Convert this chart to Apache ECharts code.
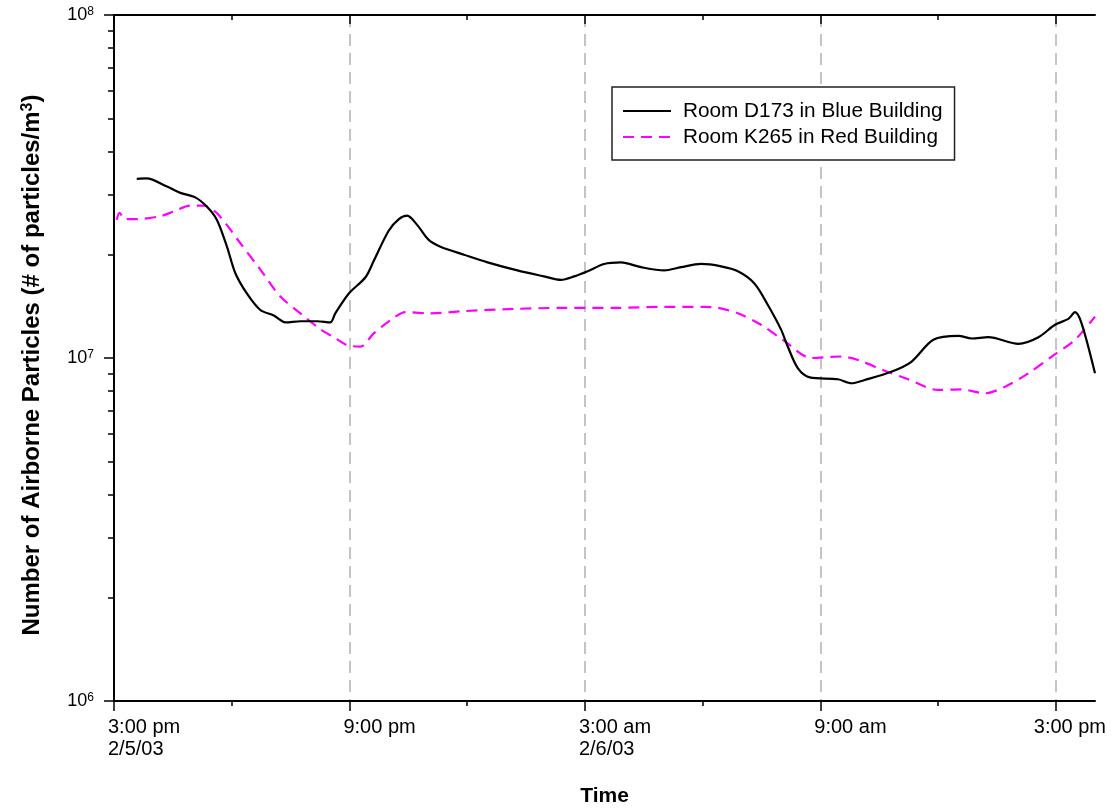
<!DOCTYPE html>
<html>
<head>
<meta charset="utf-8">
<script src="https://cdn.jsdelivr.net/npm/echarts@6/dist/echarts.min.js"></script>
<style>html,body{margin:0;padding:0;background:#fff;}#c{width:1113px;height:810px;}</style>
</head>
<body>
<div id="c"></div>
<script>
// Hours after 3:00 pm 2/5/03
const blueHours = [0.58,0.83,1.35,1.69,2.07,2.37,2.62,2.88,3.09,3.39,3.73,4.07,4.37,4.75,5.18,5.51,5.64,5.98,6.41,6.62,7.0,7.26,7.47,7.73,8.02,8.32,8.92,9.52,10.28,10.96,11.39,11.73,12.07,12.49,12.92,13.43,14.02,14.45,14.96,15.47,15.90,16.32,16.66,17.0,17.17,17.43,17.73,18.45,18.79,19.13,19.81,20.32,20.88,21.52,21.86,22.28,23.05,23.56,23.98,24.32,24.49,24.66,25.0];
const blueValues = [3.33e7,3.34e7,3.16e7,3.03e7,2.94e7,2.76e7,2.53e7,2.11e7,1.77e7,1.54e7,1.38e7,1.33e7,1.27e7,1.28e7,1.28e7,1.27e7,1.35e7,1.54e7,1.72e7,1.92e7,2.35e7,2.54e7,2.60e7,2.44e7,2.21e7,2.11e7,2.00e7,1.90e7,1.80e7,1.73e7,1.69e7,1.73e7,1.79e7,1.88e7,1.90e7,1.84e7,1.80e7,1.84e7,1.88e7,1.85e7,1.79e7,1.65e7,1.43e7,1.21e7,1.08e7,9.33e6,8.78e6,8.67e6,8.44e6,8.63e6,9.12e6,9.75e6,1.13e7,1.16e7,1.14e7,1.15e7,1.10e7,1.15e7,1.25e7,1.30e7,1.36e7,1.26e7,9.02e6];

const redHours = [0.07,0.14,0.28,0.58,1.17,1.51,1.94,2.28,2.58,2.88,3.22,3.73,4.24,4.75,5.27,5.60,5.94,6.28,6.62,7.05,7.43,8.07,8.92,10.19,11.47,12.75,14.02,15.05,15.39,15.90,16.49,17.09,17.77,18.54,18.96,19.64,20.24,21.0,21.6,22.19,22.71,23.3,23.9,24.49,25.0];
const redValues = [2.53e7,2.65e7,2.54e7,2.54e7,2.59e7,2.67e7,2.78e7,2.78e7,2.67e7,2.44e7,2.16e7,1.81e7,1.51e7,1.35e7,1.21e7,1.15e7,1.09e7,1.08e7,1.18e7,1.29e7,1.36e7,1.35e7,1.37e7,1.39e7,1.40e7,1.40e7,1.41e7,1.41e7,1.40e7,1.35e7,1.25e7,1.12e7,1.00e7,1.01e7,9.87e6,9.18e6,8.67e6,8.07e6,8.10e6,7.89e6,8.25e6,9.02e6,1.01e7,1.13e7,1.32e7];

const seriesNames = ['Room D173 in Blue Building', 'Room K265 in Red Building'];
const xMajorHours = [0, 6, 12, 18, 24];
const xMinorHours = [3, 9, 15, 21];
const xTickLabels = ['3:00 pm\n2/5/03', '9:00 pm', '3:00 am\n2/6/03', '9:00 am', '3:00 pm'];
const yMajorValues = [1e6, 1e7, 1e8];
const yMinorMultipliers = [2, 3, 4, 5, 6, 7, 8, 9];
const yMinorValues = [];
[1e6, 1e7].forEach(d => yMinorMultipliers.forEach(m => yMinorValues.push(m * d)));

const FONT = 'Liberation Sans, Arial, sans-serif';
const pair = (xs, ys) => xs.map((x, i) => [x, ys[i]]);

const chart = echarts.init(document.getElementById('c'), null, {renderer: 'canvas'});

const baseX = {type: 'value', min: 0, max: 25, interval: 6, gridIndex: 0, splitLine: {show: false}};
const baseY = {type: 'log', logBase: 10, min: 1e6, max: 1e8, gridIndex: 0, splitLine: {show: false}};
const blackLine = {show: true, lineStyle: {color: '#000', width: 2}};

chart.setOption({
  animation: false,
  backgroundColor: '#fff',
  textStyle: {fontFamily: FONT},
  grid: {left: 114, right: 18, top: 15, bottom: 109, containLabel: false, outerBoundsMode: 'none'},
  legend: {
    orient: 'vertical', left: 612, top: 87,
    padding: [13, 12, 12, 10], itemGap: 4, itemWidth: 48, itemHeight: 14,
    borderColor: '#222', borderWidth: 1.5, backgroundColor: '#fff',
    itemStyle: {opacity: 0},
    textStyle: {fontSize: 20.75, color: '#000', fontFamily: FONT, lineHeight: 22, padding: [0, 0, 0, 7]},
    data: seriesNames
  },
  xAxis: [
    Object.assign({}, baseX, {
      position: 'bottom', axisLine: blackLine,
      axisTick: {show: true, inside: false, length: 10, lineStyle: {color: '#000', width: 1.5}, customValues: xMajorHours},
      axisLabel: {show: true, customValues: xMajorHours, align: 'left', margin: 15, padding: [0, 0, 0, -6],
        fontSize: 20, color: '#000', fontFamily: FONT, lineHeight: 22,
        rich: {last: {fontSize: 20, color: '#000', fontFamily: FONT, lineHeight: 22, padding: [0, 0, 0, -16]}},
        formatter: v => {
          const i = xMajorHours.indexOf(v);
          if (i < 0) return '';
          return i === xMajorHours.length - 1 ? '{last|' + xTickLabels[i] + '}' : xTickLabels[i];
        }},
      splitLine: {show: true, lineStyle: {color: '#c4c4c4', width: 2, type: [12, 7]}},
      name: 'Time', nameLocation: 'middle', nameGap: 85,
      nameTextStyle: {fontSize: 21, fontWeight: 'bold', color: '#000', fontFamily: FONT}
    }),
    Object.assign({}, baseX, {
      position: 'bottom', axisLine: {show: false},
      axisTick: {show: true, inside: false, length: 5, lineStyle: {color: '#000', width: 1.5}, customValues: xMinorHours},
      axisLabel: {show: false}
    }),
    Object.assign({}, baseX, {
      position: 'top', axisLine: blackLine,
      axisTick: {show: true, inside: true, length: 9, lineStyle: {color: '#000', width: 1.5}, customValues: xMajorHours},
      axisLabel: {show: false}
    }),
    Object.assign({}, baseX, {
      position: 'top', axisLine: {show: false},
      axisTick: {show: true, inside: true, length: 5, lineStyle: {color: '#000', width: 1.5}, customValues: xMinorHours},
      axisLabel: {show: false}
    })
  ],
  yAxis: [
    Object.assign({}, baseY, {
      position: 'left', axisLine: blackLine,
      axisTick: {show: true, inside: false, length: 10, lineStyle: {color: '#000', width: 1.5}, customValues: yMajorValues},
      axisLabel: {show: true, customValues: yMajorValues, margin: 20, color: '#000', fontSize: 18, fontFamily: FONT,
        formatter: v => '10{s|' + Math.round(Math.log10(v)) + '}',
        rich: {s: {fontSize: 12, verticalAlign: 'top', lineHeight: 12, color: '#000', fontFamily: FONT}}},
      name: 'Number of Airborne Particles (# of particles/m{s|3})',
      nameLocation: 'middle', nameGap: 70, nameRotate: 90,
      nameTextStyle: {fontSize: 24, fontWeight: 'bold', color: '#000', fontFamily: FONT, padding: [0, 14, 0, 0],
        rich: {s: {fontSize: 16, fontWeight: 'bold', verticalAlign: 'top', lineHeight: 14, color: '#000', fontFamily: FONT}}}
    }),
    Object.assign({}, baseY, {
      position: 'left', axisLine: {show: false},
      axisTick: {show: true, inside: false, length: 6, lineStyle: {color: '#000', width: 1.5}, customValues: yMinorValues},
      axisLabel: {show: false}
    }),
    Object.assign({}, baseY, {
      position: 'right', axisLine: blackLine,
      axisTick: {show: true, inside: true, length: 10, lineStyle: {color: '#000', width: 1.5}, customValues: yMajorValues},
      axisLabel: {show: false}
    }),
    Object.assign({}, baseY, {
      position: 'right', axisLine: {show: false},
      axisTick: {show: true, inside: true, length: 6, lineStyle: {color: '#000', width: 1.5}, customValues: yMinorValues},
      axisLabel: {show: false}
    })
  ],
  series: [
    {name: seriesNames[0], type: 'line', xAxisIndex: 0, yAxisIndex: 0, data: pair(blueHours, blueValues),
      symbol: 'none', smooth: 0.3, lineStyle: {color: '#000', width: 2.2}, itemStyle: {color: '#000'}, z: 4},
    {name: seriesNames[1], type: 'line', xAxisIndex: 0, yAxisIndex: 0, data: pair(redHours, redValues),
      symbol: 'none', smooth: 0.3, lineStyle: {color: '#ff00ff', width: 2.2, type: [11, 7]}, itemStyle: {color: '#ff00ff'}, z: 3}
  ]
});
</script>
</body>
</html>
